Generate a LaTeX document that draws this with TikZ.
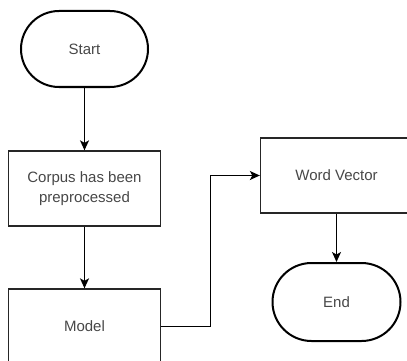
\documentclass[tikz,border=0pt]{standalone}
\usepackage{fontspec}
\setmainfont{Liberation Sans}
\usetikzlibrary{arrows.meta}
\begin{document}
\begin{tikzpicture}[x=1pt,y=-1pt,
  lbl/.style={font=\fontsize{15}{19.5}\selectfont, text=black!72, align=center, inner sep=0pt},
  procbox/.style={lbl, draw=black!85, line width=1.3pt, minimum width=152pt, minimum height=75pt},
  termbox/.style={lbl, draw=black, line width=2pt, rounded corners=38pt, minimum height=76pt},
  arr/.style={draw=black, line width=1.3pt, -{Stealth[length=10pt,width=9pt,inset=2.5pt]}}]
\useasboundingbox (0,0) rectangle (407,361);
\clip (0,0) rectangle (407,361);
\node[termbox, minimum width=127pt] (start) at (84.5,49) {Start};
\node[procbox] (corpus) at (84.5,188.5) {Corpus has been\\preprocessed};
\node[procbox] (model) at (84.5,326.5) {Model};
\node[procbox] (wv) at (336.5,175.5) {Word Vector};
\node[termbox, minimum width=128pt, minimum height=78pt, rounded corners=39pt] (end) at (336.5,302) {End};
\coordinate (bend) at (210.5,175.5);
\draw[arr] (start) -- (corpus);
\draw[arr] (corpus) -- (model);
\draw[arr] (model.east) -| (bend) -- (wv.west);
\draw[arr] (wv) -- (end);
\end{tikzpicture}
\end{document}
